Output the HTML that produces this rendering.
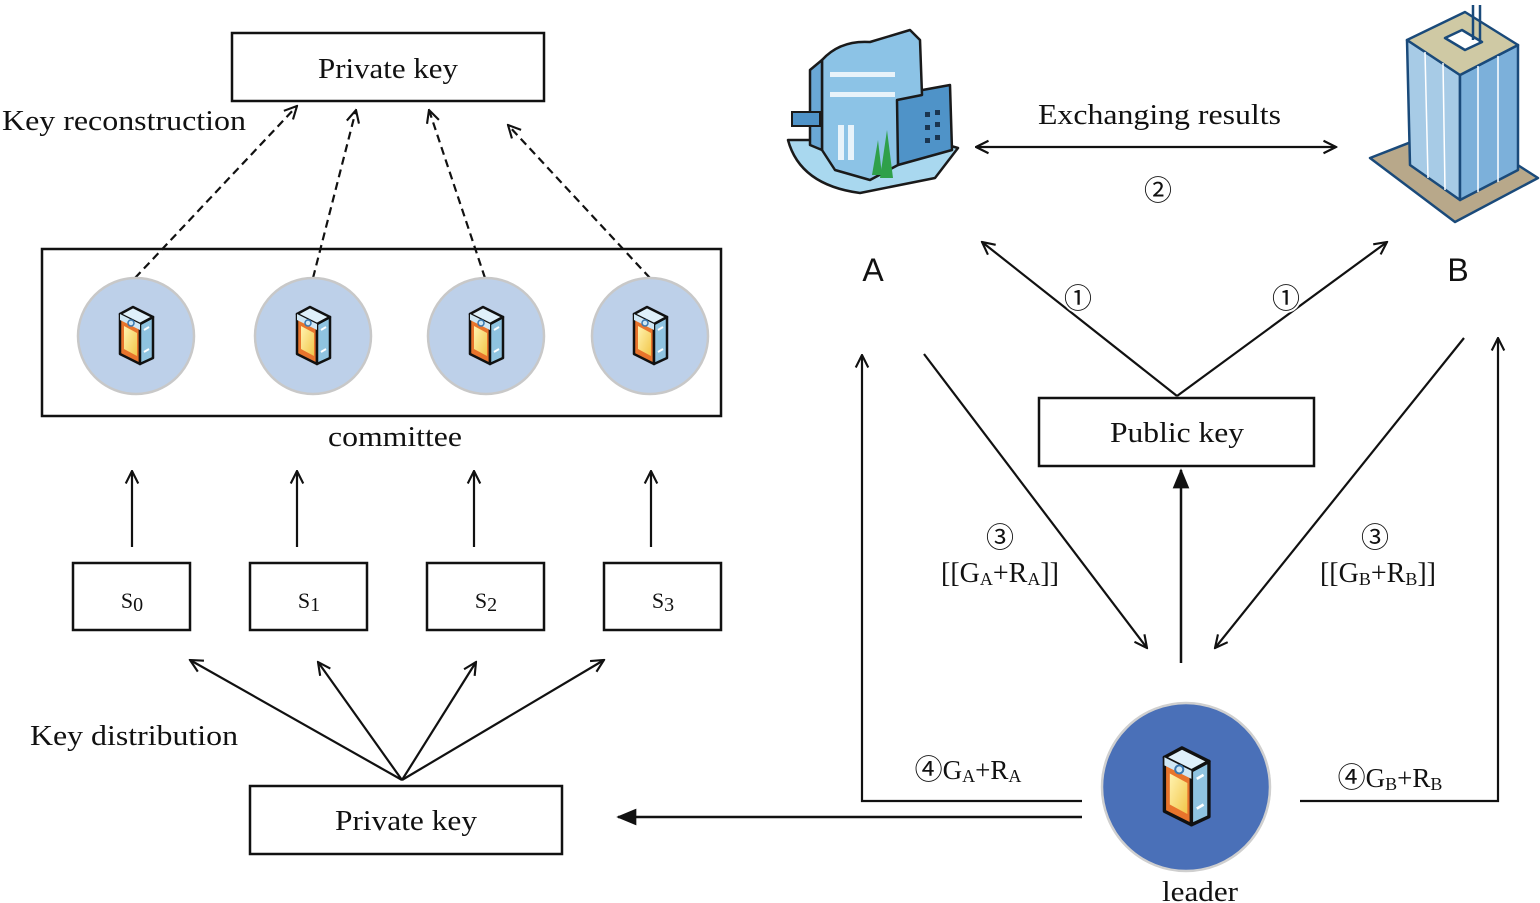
<!DOCTYPE html>
<html><head><meta charset="utf-8"><style>
html,body{margin:0;padding:0;background:#fff}
svg{display:block}
text{font-family:"Liberation Serif",serif;fill:#111}
.sans{font-family:"Liberation Sans","Noto Sans CJK SC",sans-serif}
.circ{font-family:"Noto Sans CJK SC","WenQuanYi Zen Hei",sans-serif}
</style></head><body>
<svg width="1540" height="903" viewBox="0 0 1540 903" xmlns="http://www.w3.org/2000/svg">
<defs>
<marker id="oa" viewBox="0 0 12 12" refX="11" refY="6" markerWidth="15" markerHeight="15" markerUnits="userSpaceOnUse" orient="auto">
<path d="M1,1 L11,6 L1,11" fill="none" stroke="#111" stroke-width="1.7"/></marker>
<marker id="oas" viewBox="0 0 12 12" refX="1" refY="6" markerWidth="15" markerHeight="15" markerUnits="userSpaceOnUse" orient="auto">
<path d="M11,1 L1,6 L11,11" fill="none" stroke="#111" stroke-width="1.7"/></marker>
<marker id="fa" viewBox="0 0 12 12" refX="11" refY="6" markerWidth="20" markerHeight="20" markerUnits="userSpaceOnUse" orient="auto">
<path d="M0,1 L12,6 L0,11 Z" fill="#111"/></marker>
<linearGradient id="yel" x1="0" y1="0" x2="1" y2="1"><stop offset="0" stop-color="#fff3b0"/><stop offset="1" stop-color="#f2c64a"/></linearGradient>
<g id="dev">
<polygon points="-16,-22 4,-12 4,28 -16,18" fill="#e8742c" stroke="#111" stroke-width="2.5" stroke-linejoin="round"/>
<polygon points="-12,-10 1,-3 1,20 -12,13" fill="url(#yel)"/>
<polygon points="4,-12 17,-19 17,22 4,28" fill="#8fc3e0" stroke="#111" stroke-width="2.5" stroke-linejoin="round"/>
<polygon points="-16,-22 -3,-29 17,-19 4,-12" fill="#dff0fa" stroke="#111" stroke-width="2.5" stroke-linejoin="round"/>
<polygon points="-16,-22 4,-12 4,-6 -16,-16" fill="#cfe7f5"/>
<circle cx="-5" cy="-13" r="3" fill="none" stroke="#3a78b0" stroke-width="1.5"/>
<line x1="8" y1="-6" x2="13" y2="-9" stroke="#fff" stroke-width="2"/>
<line x1="8" y1="16" x2="13" y2="13" stroke="#fff" stroke-width="2"/>
</g>
</defs>

<rect x="232" y="33" width="312" height="68" fill="#fff" stroke="#111" stroke-width="2.5"/>
<text x="318" y="78" font-size="29" textLength="140" lengthAdjust="spacingAndGlyphs">Private key</text>
<text x="2" y="130" font-size="29" textLength="244" lengthAdjust="spacingAndGlyphs">Key reconstruction</text>

<g stroke="#111" stroke-width="2.2" stroke-dasharray="8,5" fill="none">
<line x1="135" y1="278" x2="297" y2="106" marker-end="url(#oa)"/>
<line x1="313" y1="278" x2="356" y2="110" marker-end="url(#oa)"/>
<line x1="485" y1="278" x2="429" y2="110" marker-end="url(#oa)"/>
<line x1="650" y1="278" x2="508" y2="125" marker-end="url(#oa)"/>
</g>

<rect x="42" y="249" width="679" height="167" fill="none" stroke="#111" stroke-width="2.5"/>
<g fill="#bdd0e9" stroke="#c8c8c8" stroke-width="2.5">
<circle cx="136" cy="336" r="58"/><circle cx="313" cy="336" r="58"/>
<circle cx="486" cy="336" r="58"/><circle cx="650" cy="336" r="58"/>
</g>
<use href="#dev" x="136" y="336"/><use href="#dev" x="313" y="336"/>
<use href="#dev" x="486" y="336"/><use href="#dev" x="650" y="336"/>
<text x="328" y="446" font-size="29" textLength="134" lengthAdjust="spacingAndGlyphs">committee</text>

<g stroke="#111" stroke-width="2.2" fill="none">
<line x1="132" y1="547" x2="132" y2="471" marker-end="url(#oa)"/>
<line x1="297" y1="547" x2="297" y2="471" marker-end="url(#oa)"/>
<line x1="474" y1="547" x2="474" y2="471" marker-end="url(#oa)"/>
<line x1="651" y1="547" x2="651" y2="471" marker-end="url(#oa)"/>
</g>
<g fill="#fff" stroke="#111" stroke-width="2.5">
<rect x="73" y="563" width="117" height="67"/><rect x="250" y="563" width="117" height="67"/>
<rect x="427" y="563" width="117" height="67"/><rect x="604" y="563" width="117" height="67"/>
</g>
<g font-size="22" text-anchor="middle">
<text x="132" y="608">S<tspan font-size="20" dy="3">0</tspan></text>
<text x="309" y="608">S<tspan font-size="20" dy="3">1</tspan></text>
<text x="486" y="608">S<tspan font-size="20" dy="3">2</tspan></text>
<text x="663" y="608">S<tspan font-size="20" dy="3">3</tspan></text>
</g>

<g stroke="#111" stroke-width="2.2" fill="none">
<line x1="402" y1="780" x2="190" y2="660" marker-end="url(#oa)"/>
<line x1="402" y1="780" x2="318" y2="662" marker-end="url(#oa)"/>
<line x1="402" y1="780" x2="476" y2="662" marker-end="url(#oa)"/>
<line x1="402" y1="780" x2="604" y2="660" marker-end="url(#oa)"/>
</g>
<text x="30" y="745" font-size="29" textLength="208" lengthAdjust="spacingAndGlyphs">Key distribution</text>
<rect x="250" y="786" width="312" height="68" fill="#fff" stroke="#111" stroke-width="2.5"/>
<text x="335" y="830" font-size="29" textLength="142" lengthAdjust="spacingAndGlyphs">Private key</text>

<!-- Building A -->
<g stroke="#1a1a1a" stroke-width="2.5" stroke-linejoin="round">
<path d="M788,140 Q800,185 860,193 L935,178 L958,148 L930,140 Z" fill="#a9d8ef"/>
<path d="M895,95 L950,85 L952,150 L898,165 Z" fill="#4f93c8"/>
<path d="M822,60 Q840,40 870,42 L910,30 L920,40 L922,95 L897,100 L898,165 L870,180 L835,170 L822,150 Z" fill="#8cc3e6"/>
<path d="M810,70 L822,60 L822,150 L810,145 Z" fill="#6aa8d6"/>
</g>
<g fill="#fff" opacity="0.8">
<rect x="830" y="72" width="65" height="5"/><rect x="830" y="92" width="65" height="5"/>
<rect x="838" y="125" width="6" height="35"/><rect x="848" y="125" width="6" height="35"/>
</g>
<g fill="#1a3550"><rect x="925" y="112" width="5" height="5"/><rect x="935" y="110" width="5" height="5"/><rect x="925" y="125" width="5" height="5"/><rect x="935" y="122" width="5" height="5"/><rect x="925" y="138" width="5" height="5"/><rect x="935" y="135" width="5" height="5"/></g>
<polygon points="872,175 878,140 882,175" fill="#2fa04a"/><polygon points="880,178 887,130 893,178" fill="#2fa04a"/>
<rect x="792" y="112" width="28" height="14" fill="#4f93c8" stroke="#1a1a1a" stroke-width="2"/>

<!-- Building B -->
<g stroke="#1a4a7a" stroke-width="2.5" stroke-linejoin="round">
<polygon points="1370,158 1455,222 1538,178 1455,125" fill="#b8a88a"/>
<polygon points="1407,40 1460,75 1460,200 1410,165" fill="#a7cbe6"/>
<polygon points="1460,75 1518,45 1518,170 1460,200" fill="#7cb0da"/>
<polygon points="1407,40 1465,12 1518,45 1460,75" fill="#cfc9a4"/>
<polygon points="1445,38 1462,30 1482,42 1465,50" fill="#fff"/>
<line x1="1473" y1="40" x2="1473" y2="5"/><line x1="1480" y1="42" x2="1480" y2="5"/>
</g>
<g stroke="#fff" stroke-width="1.5">
<line x1="1425" y1="52" x2="1428" y2="178"/><line x1="1443" y1="63" x2="1445" y2="190"/>
<line x1="1478" y1="66" x2="1478" y2="192"/><line x1="1498" y1="56" x2="1498" y2="182"/>
</g>

<text x="1038" y="124" font-size="29" textLength="243" lengthAdjust="spacingAndGlyphs">Exchanging results</text>
<line x1="976" y1="147" x2="1336" y2="147" stroke="#111" stroke-width="2.2" marker-start="url(#oas)" marker-end="url(#oa)"/>
<text x="1158" y="200" font-size="28" text-anchor="middle" class="circ">②</text>
<text x="873" y="281" font-size="32" text-anchor="middle" class="sans">A</text>
<text x="1458" y="281" font-size="32" text-anchor="middle" class="sans">B</text>

<g stroke="#111" stroke-width="2.2" fill="none">
<line x1="1177" y1="396" x2="982" y2="242" marker-end="url(#oa)"/>
<line x1="1177" y1="396" x2="1387" y2="242" marker-end="url(#oa)"/>
<line x1="924" y1="354" x2="1147" y2="648" marker-end="url(#oa)"/>
<line x1="1464" y1="338" x2="1215" y2="648" marker-end="url(#oa)"/>
<polyline points="1082,801 862,801 862,355" marker-end="url(#oa)"/>
<polyline points="1300,801 1498,801 1498,338" marker-end="url(#oa)"/>
</g>
<line x1="1181" y1="663" x2="1181" y2="470" stroke="#111" stroke-width="2.5" marker-end="url(#fa)"/>
<line x1="1082" y1="817" x2="618" y2="817" stroke="#111" stroke-width="2.5" marker-end="url(#fa)"/>

<text x="1078" y="308" font-size="28" text-anchor="middle" class="circ" style="paint-order:stroke;stroke:#fff;stroke-width:4px">①</text>
<text x="1286" y="308" font-size="28" text-anchor="middle" class="circ" style="paint-order:stroke;stroke:#fff;stroke-width:4px">①</text>

<rect x="1039" y="398" width="275" height="68" fill="#fff" stroke="#111" stroke-width="2.5"/>
<text x="1110" y="442" font-size="29" textLength="134" lengthAdjust="spacingAndGlyphs">Public key</text>

<text x="1000" y="547" font-size="28" text-anchor="middle" class="circ">③</text>
<text x="1000" y="582" font-size="28" text-anchor="middle">[[G<tspan font-size="18" dy="3">A</tspan><tspan dy="-3">+R</tspan><tspan font-size="18" dy="3">A</tspan><tspan dy="-3">]]</tspan></text>
<text x="1375" y="547" font-size="28" text-anchor="middle" class="circ">③</text>
<text x="1378" y="582" font-size="28" text-anchor="middle">[[G<tspan font-size="18" dy="3">B</tspan><tspan dy="-3">+R</tspan><tspan font-size="18" dy="3">B</tspan><tspan dy="-3">]]</tspan></text>
<text x="968" y="779" font-size="27" text-anchor="middle"><tspan class="circ" font-size="28">④</tspan>G<tspan font-size="18" dy="3">A</tspan><tspan dy="-3">+R</tspan><tspan font-size="18" dy="3">A</tspan></text>
<text x="1390" y="787" font-size="27" text-anchor="middle"><tspan class="circ" font-size="28">④</tspan>G<tspan font-size="18" dy="3">B</tspan><tspan dy="-3">+R</tspan><tspan font-size="18" dy="3">B</tspan></text>

<circle cx="1186" cy="787" r="84" fill="#4a70b8" stroke="#cfcfcf" stroke-width="2.5"/>
<use href="#dev" transform="translate(1186,787) scale(1.35)"/>
<text x="1162" y="901" font-size="29" textLength="76" lengthAdjust="spacingAndGlyphs">leader</text>
</svg>
</body></html>
